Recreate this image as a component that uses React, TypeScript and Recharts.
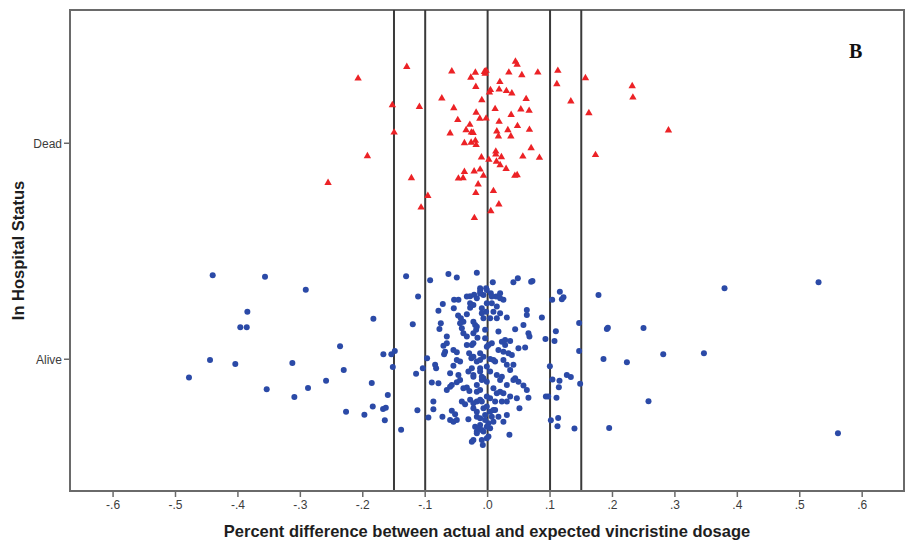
import React from 'react';
import { ScatterChart, Scatter, XAxis, YAxis, ReferenceLine, ReferenceArea } from 'recharts';

const xDomain: [number, number] = [-0.669, 0.667];
const yDomain: [number, number] = [-0.61, 1.617];
const xTicks = [-0.6, -0.5, -0.4, -0.3, -0.2, -0.1, 0, 0.1, 0.2, 0.3, 0.4, 0.5, 0.6];
const statusTicks = [0, 1];
const statusLabels = ['Alive', 'Dead'];
const cutoffLines = [-0.15, -0.1, 0, 0.1, 0.15];

// [percent difference, jittered status] ; Dead = 1
const deadPoints: [number, number][] = [
  [-0.2075, 1.302], [-0.1295, 1.356], [-0.1526, 1.179], [-0.1498, 1.052], [-0.1926, 0.943], [-0.2556, 0.819], [-0.1093, 1.171], [-0.1221, 0.841], [-0.0958, 0.759], [-0.1066, 0.705],
  [-0.0574, 1.335], [-0.0734, 1.21], [-0.0542, 1.165], [-0.0478, 1.11], [-0.0601, 1.048], [-0.0372, 1.003], [-0.0345, 1.063], [-0.0285, 1.088], [-0.026, 1.052], [-0.0232, 1.05],
  [-0.0264, 1.005], [-0.0196, 1.014], [-0.0184, 0.994], [-0.0196, 1.329], [-0.0269, 1.306], [-0.0189, 1.263], [-0.0093, 1.202], [-0.0184, 1.144], [-0.0125, 1.116], [-0.0051, 1.333],
  [-0.0024, 1.338], [-0.004, 1.324], [-0.0099, 0.937], [-0.0372, 0.87], [-0.0468, 0.839], [-0.0393, 0.841], [-0.0216, 0.872], [-0.012, 0.881], [-0.0067, 0.852], [-0.0152, 0.812],
  [-0.0189, 0.772], [-0.0212, 0.656], [-0.0024, 1.117],
  [0.0446, 1.38], [0.0473, 1.366], [0.034, 1.33], [0.0548, 1.318], [0.0804, 1.33], [0.1125, 1.338], [0.1109, 1.276], [0.1567, 1.304], [0.2316, 1.267], [0.2327, 1.214],
  [0.1333, 1.196], [0.1622, 1.142], [0.2897, 1.062], [0.1728, 0.948], [0.0196, 1.286], [0.0045, 1.249], [0.0029, 1.238], [0.0184, 1.251], [0.0301, 1.244], [0.0388, 1.233],
  [0.0617, 1.207], [0.012, 1.161], [0.0532, 1.159], [0.0665, 1.153], [0.0377, 1.134], [0.0184, 1.102], [0.0478, 1.082], [0.067, 1.065], [0.0147, 1.057], [0.0324, 1.063],
  [0.0173, 1.034], [0.0372, 1.034], [0.0697, 0.98], [0.0131, 0.964], [0.0131, 0.95], [0.0221, 0.938], [0.0564, 0.941], [0.083, 0.935], [0.0019, 0.926], [0.0141, 0.917],
  [0.02, 0.901], [0.0296, 0.884], [0.0436, 0.852], [0.0473, 0.855], [0.0093, 0.781], [0.018, 0.719], [0.0051, 0.688],
];

// [percent difference, jittered status] ; Alive = 0
const aliveOutliersLeft: [number, number][] = [
  [-0.4404, 0.389], [-0.3566, 0.382], [-0.2913, 0.322], [-0.3849, 0.22], [-0.3962, 0.148], [-0.3859, 0.148], [-0.183, 0.187], [-0.2364, 0.06], [-0.4447, -0.003], [-0.4042, -0.022],
  [-0.3128, -0.017], [-0.4784, -0.085], [-0.2305, -0.05], [-0.2588, -0.099], [-0.3539, -0.139], [-0.2877, -0.133], [-0.3096, -0.175], [-0.1856, -0.11], [-0.167, 0.023], [-0.1542, 0.023],
  [-0.1487, 0.038], [-0.1519, -0.036], [-0.1599, -0.165], [-0.2268, -0.243], [-0.1974, -0.257], [-0.184, -0.219], [-0.1675, -0.23], [-0.1631, -0.224], [-0.1647, -0.282], [-0.1386, -0.326],
  [-0.1306, 0.384],
];

const aliveOutliersRight: [number, number][] = [
  [0.5301, 0.357], [0.3795, 0.329], [0.1157, 0.313], [0.1034, 0.276], [0.1189, 0.278], [0.1215, 0.287], [0.1776, 0.298], [0.0869, 0.193], [0.1466, 0.168], [0.191, 0.14],
  [0.1926, 0.146], [0.2497, 0.145], [0.1093, 0.13], [0.0926, 0.094], [0.1071, 0.085], [0.1466, 0.038], [0.1856, 0.001], [0.2231, -0.014], [0.2813, 0.023], [0.3465, 0.028],
  [0.0997, -0.032], [0.1038, -0.094], [0.1151, -0.099], [0.1269, -0.073], [0.1333, -0.082], [0.1141, -0.13], [0.1482, -0.114], [0.0933, -0.173], [0.097, -0.173], [0.1103, -0.178],
  [0.2577, -0.194], [0.1013, -0.282], [0.113, -0.272], [0.1119, -0.31], [0.1391, -0.321], [0.1947, -0.318], [0.5612, -0.343],
];

const aliveCoreLow: [number, number][] = [
  [-0.1114, 0.29], [-0.1199, 0.162], [-0.1146, -0.067], [-0.1038, -0.042], [-0.1125, -0.236], [-0.097, 0.005], [-0.0921, 0.366], [-0.0628, 0.395], [-0.0494, 0.378], [-0.0173, 0.4],
  [-0.0718, 0.256], [-0.0788, 0.224], [-0.0537, 0.275], [-0.0468, 0.276], [-0.028, 0.292], [-0.0216, 0.299], [-0.012, 0.316], [-0.0542, 0.236], [-0.0473, 0.202], [-0.0429, 0.19],
  [-0.0388, 0.174], [-0.0333, 0.208], [-0.028, 0.239], [-0.0264, 0.251], [-0.075, 0.167], [-0.0772, 0.14], [-0.0654, 0.105], [-0.0413, 0.144], [-0.0388, 0.12], [-0.0228, 0.174],
  [-0.0184, 0.136], [-0.0163, 0.1], [-0.0708, 0.063], [-0.0681, 0.035], [-0.0697, 0.023], [-0.0548, 0.043], [-0.0494, 0.032], [-0.0333, 0.066], [-0.0296, 0.028], [-0.026, 0.005],
  [-0.0441, -0.011], [-0.0548, -0.03], [-0.0841, -0.026], [-0.0825, -0.042], [-0.0894, -0.108], [-0.0788, -0.111], [-0.0468, -0.073], [-0.0441, -0.096], [-0.0494, -0.106], [-0.0574, -0.119],
  [-0.0601, -0.127], [-0.0308, -0.057], [-0.0253, -0.042], [-0.012, -0.057], [-0.0093, -0.096], [-0.0333, -0.131], [-0.0292, -0.147], [-0.0173, -0.15], [-0.0869, -0.196], [-0.0869, -0.232],
  [-0.0949, -0.27], [-0.0724, -0.266], [-0.0574, -0.238], [-0.0521, -0.255], [-0.0601, -0.281], [-0.0548, -0.289], [-0.0413, -0.196], [-0.0361, -0.208], [-0.028, -0.188], [-0.0228, -0.227],
  [-0.0173, -0.243], [-0.0308, -0.278], [-0.0173, -0.266], [-0.02, -0.312], [-0.0173, -0.335], [-0.0253, -0.382], [-0.0093, -0.374], [-0.0077, -0.397], [-0.012, -0.304], [-0.0093, -0.196],
  [-0.0067, -0.227],
];

const aliveCoreHigh: [number, number][] = [
  [0.0083, 0.357], [0.0413, 0.357], [0.0484, 0.375], [0.0697, 0.359], [0.0718, 0.362], [-0.012, 0.329], [-0.0024, 0.329], [-0.0067, 0.298], [-0.0173, 0.282], [-0.0228, 0.251],
  [0.0051, 0.306], [0.0136, 0.29], [0.02, 0.282], [-0.0013, 0.259], [0.0067, 0.259], [0.0147, 0.244], [-0.0093, 0.236], [-0.0024, 0.22], [0.0093, 0.22], [-0.0067, 0.19],
  [0.004, 0.19], [0.0147, 0.19], [0.0308, 0.193], [0.0628, 0.228], [0.0628, 0.205], [0.0574, 0.159], [0.0654, 0.12], [0.067, 0.105], [0.0441, 0.139], [0.0173, 0.128],
  [-0.02, 0.159], [-0.0228, 0.074], [-0.004, 0.097], [0.0013, 0.066], [0.0067, 0.074], [0.0228, 0.081], [0.028, 0.066], [0.0361, 0.085], [0.0494, 0.051], [0.0601, 0.054],
  [0.0173, 0.043], [0.0253, 0.035], [0.0333, 0.028], [0.0388, 0.02], [-0.012, 0.028], [-0.0067, 0.012], [0.004, 0.001], [0.012, -0.011], [-0.0173, -0.011], [-0.012, -0.042],
  [0.0308, -0.026], [0.0413, -0.026], [0.004, -0.057], [0.0147, -0.073], [0.0228, -0.081], [-0.0067, -0.088], [-0.0013, -0.104], [0.0413, -0.096], [0.0494, -0.104], [0.0574, -0.122],
  [0.0308, -0.119], [-0.0228, -0.073], [-0.0173, -0.119], [-0.012, -0.142], [0.0093, -0.134], [0.02, -0.15], [0.0253, -0.157], [0.0628, -0.142], [0.0654, -0.178], [0.0361, -0.173],
  [0.0468, -0.181], [0.004, -0.181], [0.012, -0.196], [0.0228, -0.196], [0.0308, -0.196], [-0.0173, -0.196], [-0.0013, -0.219], [0.051, -0.227], [0.004, -0.243], [0.012, -0.235],
  [0.0067, -0.266], [0.0173, -0.266], [0.0308, -0.258], [-0.012, -0.273], [-0.004, -0.258], [0.0253, -0.289], [0.0013, -0.296], [0.0093, -0.289], [0.004, -0.319], [-0.0147, -0.319],
  [-0.0067, -0.335], [0.0349, -0.35], [-0.0013, -0.366], [-0.0228, -0.374], [0.0441, -0.088],
];

const aliveCoreExtra: [number, number][] = [
  [-0.012, 0.304], [-0.0013, 0.321], [0.0067, 0.29], [0.02, 0.306], [0.0253, 0.275], [0.02, 0.213], [-0.0093, 0.213], [-0.0173, 0.151], [-0.004, 0.136], [0.028, 0.089],
  [-0.0013, 0.058], [-0.0253, 0.066], [-0.0228, 0.012], [-0.012, -0.003], [-0.0013, -0.034], [0.0093, -0.003], [0.0253, -0.003], [0.0361, -0.05], [-0.0228, -0.081], [-0.0093, -0.081],
  [0.02, -0.096], [0.0147, -0.157], [-0.0013, -0.173], [-0.012, -0.188], [-0.0228, -0.204], [0.0093, -0.235], [-0.004, -0.281], [-0.0013, -0.312], [-0.0093, -0.327], [-0.0173, -0.343],
  [0.0013, -0.358], [-0.0654, 0.074], [-0.0494, -0.003], [-0.0601, -0.065], [-0.0388, -0.134], [-0.0654, -0.142], [-0.0494, -0.281], [-0.0333, 0.29], [-0.028, 0.259], [-0.0441, 0.167],
  [-0.0333, 0.105], [-0.0228, 0.12],
];

const toRows = (pts: [number, number][]) => pts.map(([x, y]) => ({ x, y }));
const deadData = toRows(deadPoints);
const aliveData = toRows([...aliveOutliersLeft, ...aliveOutliersRight, ...aliveCoreLow, ...aliveCoreHigh, ...aliveCoreExtra]);

const fmtX = (v: number) => {
  const t = Math.round(Math.abs(v) * 10);
  return (v < -1e-9 ? '-' : '') + '.' + t;
};

const RED = '#ec2226';
const BLUE = '#2b4aa7';

const TriangleShape = (props: any) => {
  const { cx, cy } = props;
  if (cx == null || cy == null) return null;
  const hw = 3.7;
  const h = 6.4;
  return (
    <polygon
      points={`${cx},${cy - h * 0.6} ${cx - hw},${cy + h * 0.4} ${cx + hw},${cy + h * 0.4}`}
      fill={RED}
    />
  );
};

const DotShape = (props: any) => {
  const { cx, cy } = props;
  if (cx == null || cy == null) return null;
  return <circle cx={cx} cy={cy} r={3} fill={BLUE} />;
};

const AXIS = '#6a6a6a';
const FONT = 'Liberation Sans, Arial, sans-serif';
const tickStyle = { fontSize: 12, fill: '#3c3c3c', fontFamily: FONT };
const titleStyle = { fontSize: 16.5, fontWeight: 'bold', fill: '#1e1e1e', fontFamily: FONT };

export default function App() {
  return (
    <div style={{ position: 'absolute', left: 0, top: 0, width: 906, height: 546, background: '#fff' }}>
      <ScatterChart width={906} height={546} margin={{ top: 10, right: 2, bottom: 0, left: 20 }}>
        <XAxis
          type="number"
          dataKey="x"
          domain={xDomain}
          ticks={xTicks}
          tickFormatter={fmtX}
          allowDataOverflow
          height={55}
          axisLine={{ stroke: AXIS, strokeWidth: 2 }}
          tickLine={{ stroke: AXIS, strokeWidth: 1.5 }}
          tickSize={6}
          tickMargin={3}
          tick={tickStyle}
          label={{
            value: 'Percent difference between actual and expected vincristine dosage',
            position: 'insideBottom',
            offset: 9,
            style: titleStyle,
          }}
        />
        <YAxis
          type="number"
          dataKey="y"
          domain={yDomain}
          ticks={statusTicks}
          tickFormatter={(v: number) => statusLabels[Math.round(v)] ?? ''}
          allowDataOverflow
          width={50}
          axisLine={{ stroke: AXIS, strokeWidth: 2 }}
          tickLine={{ stroke: AXIS, strokeWidth: 1.5 }}
          tickSize={6}
          tickMargin={2}
          tick={tickStyle}
          label={{
            value: 'In Hospital Status',
            angle: -90,
            position: 'insideLeft',
            offset: -2,
            style: { ...titleStyle, textAnchor: 'middle' },
          }}
        />
        <ReferenceArea
          x1={xDomain[0]}
          x2={xDomain[1]}
          y1={yDomain[0]}
          y2={yDomain[1]}
          fill="none"
          fillOpacity={0}
          stroke={AXIS}
          strokeWidth={2}
          ifOverflow="visible"
        />
        {cutoffLines.map((v) => (
          <ReferenceLine key={v} x={v} stroke="#3a3a3a" strokeWidth={2} />
        ))}
        <Scatter data={aliveData} shape={<DotShape />} isAnimationActive={false} />
        <Scatter data={deadData} shape={<TriangleShape />} isAnimationActive={false} />
      </ScatterChart>
      <div
        style={{
          position: 'absolute',
          left: 849,
          top: 40,
          fontFamily: 'Liberation Serif, Times New Roman, serif',
          fontWeight: 'bold',
          fontSize: 20,
          color: '#111',
          lineHeight: '22px',
        }}
      >
        B
      </div>
    </div>
  );
}
